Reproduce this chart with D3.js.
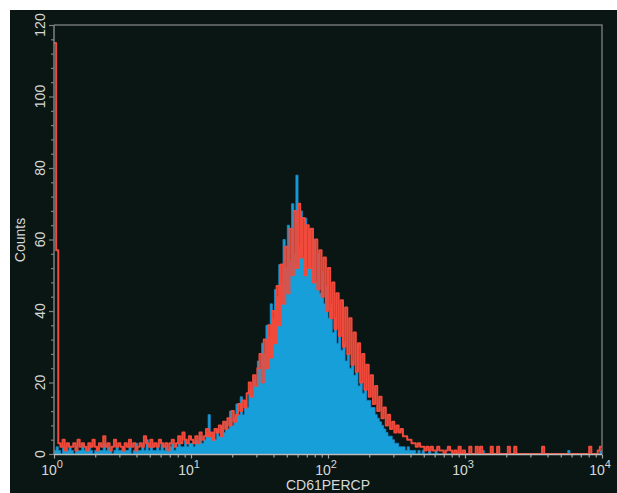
<!DOCTYPE html>
<html>
<head>
<meta charset="utf-8">
<script src="https://cdn.jsdelivr.net/npm/d3@7"></script>
<style>
  body { margin: 0; background: #fff; }
  svg { display: block; font-family: 'Liberation Sans', Arial, sans-serif; }
</style>
</head>
<body>
<script>
// histogram channels: 64 per decade, 10^0 .. 10^4
const channelsPerDecade = 64

const blueCounts = [
  1, 2, 1, 0, 2, 1, 1, 2,
  1, 0, 2, 1, 1, 3, 1, 1,
  2, 1, 0, 1, 2, 1, 1, 3,
  1, 2, 1, 0, 1, 2, 1, 1,
  2, 1, 1, 2, 0, 1, 3, 1,
  1, 2, 1, 4, 1, 2, 1, 1,
  2, 1, 3, 1, 2, 1, 2, 3,
  1, 2, 3, 2, 2, 4, 2, 3,
  3, 2, 4, 3, 5, 3, 4, 6,
  11, 5, 6, 4, 7, 5, 8, 6,
  9, 7, 12, 8, 10, 14, 11, 16,
  11, 15, 13, 18, 16, 21, 19, 26,
  24, 31, 28, 36, 33, 42, 38, 46,
  44, 53, 48, 60, 52, 64, 54, 70,
  56, 78, 58, 68, 55, 66, 52, 63,
  52, 60, 48, 56, 45, 51, 42, 47,
  38, 42, 34, 38, 31, 34, 29, 31,
  26, 28, 24, 26, 22, 23, 19, 20,
  17, 18, 15, 15, 13, 13, 11, 10,
  9, 8, 7, 6, 5, 5, 4, 3,
  3, 2, 2, 2, 1, 2, 1, 1,
  1, 0, 1, 0, 1, 0, 0, 1,
  0, 0, 1, 0, 0, 0, 0, 0,
  0, 0, 0, 0, 0, 0, 0, 0,
  0, 0, 0, 0, 0, 0, 0, 0,
  1, 0, 0, 0, 0, 0, 0, 0,
  0, 0, 0, 0, 0, 0, 0, 0,
  0, 0, 0, 0, 0, 0, 0, 0,
  0, 0, 0, 0, 0, 0, 0, 0,
  0, 0, 0, 0, 0, 0, 0, 0,
  1, 0, 0, 0, 0, 0, 0, 0,
  0, 0, 0, 0, 0, 0, 0, 1
]

const redCounts = [
  115, 57, 3, 2, 4, 1, 3, 2,
  2, 3, 1, 4, 2, 3, 2, 1,
  3, 2, 4, 2, 1, 3, 2, 5,
  2, 3, 1, 2, 4, 2, 3, 2,
  1, 3, 2, 4, 2, 3, 1, 2,
  3, 2, 5, 3, 2, 4, 2, 3,
  2, 4, 3, 2, 3, 1, 3, 4,
  2, 3, 5, 3, 6, 4, 3, 5,
  4, 3, 5, 3, 6, 4, 5, 7,
  5, 6, 4, 7, 6, 8, 5, 9,
  7, 10, 8, 12, 9, 11, 14, 12,
  15, 13, 17, 20, 16, 22, 19, 24,
  28, 20, 32, 24, 36, 27, 40, 31,
  47, 36, 53, 42, 58, 45, 63, 50,
  68, 52, 70, 55, 66, 50, 64, 52,
  63, 48, 60, 46, 57, 44, 55, 40,
  52, 38, 48, 35, 45, 33, 43, 30,
  41, 28, 38, 25, 34, 23, 31, 20,
  28, 18, 25, 16, 22, 14, 19, 12,
  16, 10, 13, 8, 11, 7, 9, 6,
  8, 6, 7, 5, 5, 4, 4, 3,
  3, 2, 3, 2, 2, 1, 2, 1,
  2, 1, 1, 2, 1, 1, 0, 1,
  2, 1, 0, 1, 0, 2, 0, 1,
  0, 0, 2, 0, 0, 2, 0, 2,
  0, 0, 0, 0, 2, 0, 0, 2,
  0, 0, 0, 0, 2, 0, 0, 2,
  0, 0, 0, 0, 0, 0, 0, 0,
  0, 0, 0, 0, 2, 0, 0, 0,
  0, 0, 0, 0, 0, 0, 0, 0,
  0, 0, 0, 0, 0, 0, 0, 0,
  0, 0, 2, 0, 0, 0, 1, 2
]

const xDecades = [0, 1, 2, 3, 4]
const yTicks = [0, 20, 40, 60, 80, 100, 120]
const yMinorStep = 4
const xLabel = 'CD61PERCP'
const yLabel = 'Counts'

const W = 617
const H = 493
const margin = { top: 25, right: 15, bottom: 39, left: 54 }

const svg = d3.select('body')
  .append('svg')
  .attr('width', W)
  .attr('height', H)

// dark panel (white strip on top and left)
svg.append('rect')
  .attr('x', 10)
  .attr('y', 10)
  .attr('width', W - 10)
  .attr('height', H - 10)
  .attr('fill', '#0a1614')

const x = d3.scaleLog()
  .domain([1, 10000])
  .range([margin.left, W - margin.right])

const y = d3.scaleLinear()
  .domain([0, 120])
  .range([H - margin.bottom, margin.top])

svg.append('clipPath')
  .attr('id', 'plot')
  .append('rect')
  .attr('x', x(1))
  .attr('y', y(120))
  .attr('width', x(10000) - x(1))
  .attr('height', y(0) - y(120))

// turn channel counts into step points
const toPoints = counts => {
  const pts = counts.map((c, i) => ({ v: Math.pow(10, i / channelsPerDecade), c: c }))
  pts.push({ v: 10000, c: counts[counts.length - 1] })
  return pts
}

const bluePts = toPoints(blueCounts)
const redPts = toPoints(redCounts)

const area = d3.area()
  .x(d => x(d.v))
  .y0(y(0))
  .y1(d => y(d.c))
  .curve(d3.curveStepAfter)

const line = d3.line()
  .x(d => x(d.v))
  .y(d => y(d.c))
  .curve(d3.curveStepAfter)

const plot = svg.append('g').attr('clip-path', 'url(#plot)')

plot.append('path')
  .datum(bluePts)
  .attr('d', area)
  .attr('fill', '#179fd9')
  .attr('stroke', '#1a8fd0')
  .attr('stroke-width', 0.8)

plot.append('path')
  .datum(redPts)
  .attr('d', line)
  .attr('fill', 'none')
  .attr('stroke', '#ef4a3b')
  .attr('stroke-width', 2)
  .attr('stroke-linejoin', 'round')

// frame: top and right
svg.append('path')
  .attr('d', `M${x(1)},${y(120)}H${x(10000)}V${y(0)}`)
  .attr('fill', 'none')
  .attr('stroke', '#6f7473')
  .attr('stroke-width', 1.5)

// y axis
const yMinor = d3.range(0, 121, yMinorStep).filter(v => v % 20 !== 0)

const yAxisMajor = d3.axisLeft(y).tickValues(yTicks).tickSize(5).tickFormat('')
const yAxisMinor = d3.axisLeft(y).tickValues(yMinor).tickSize(3).tickFormat('')

const yG = svg.append('g')
  .attr('transform', `translate(${x(1)},0)`)
yG.call(yAxisMajor)
yG.append('g').call(yAxisMinor)
yG.selectAll('path, line').attr('stroke', '#7c8281').attr('stroke-width', 1.2)
yG.selectAll('.domain').remove()
yG.append('line')
  .attr('y1', y(0))
  .attr('y2', y(120))
  .attr('stroke', '#7c8281')
  .attr('stroke-width', 1.5)

svg.selectAll('text.ylab')
  .data(yTicks)
  .enter()
  .append('text')
  .attr('class', 'ylab')
  .attr('transform', d => `translate(45,${y(d)}) rotate(-90)`)
  .attr('text-anchor', 'middle')
  .attr('font-size', 14)
  .attr('fill', '#d6d9d8')
  .text(d => d)

// x axis
const xMinor = []
xDecades.slice(0, -1).forEach(dec => {
  d3.range(2, 10).forEach(m => xMinor.push(m * Math.pow(10, dec)))
})

const xAxisMajor = d3.axisBottom(x)
  .tickValues(xDecades.map(d => Math.pow(10, d)))
  .tickSize(4)
  .tickFormat('')
const xAxisMinor = d3.axisBottom(x).tickValues(xMinor).tickSize(3).tickFormat('')

const xG = svg.append('g')
  .attr('transform', `translate(0,${y(0) + 0.5})`)
xG.call(xAxisMajor)
xG.append('g').call(xAxisMinor)
xG.selectAll('line').attr('stroke', '#9ea3a2').attr('stroke-width', 1.2)
xG.selectAll('.domain').remove()
xG.append('line')
  .attr('x1', x(1))
  .attr('x2', x(10000))
  .attr('stroke', '#b9bdbc')
  .attr('stroke-width', 1.3)

const xLab = svg.selectAll('text.xlab')
  .data(xDecades)
  .enter()
  .append('text')
  .attr('class', 'xlab')
  .attr('x', d => x(Math.pow(10, d)) - 2)
  .attr('y', 475)
  .attr('text-anchor', 'middle')
  .attr('font-size', 14)
  .attr('fill', '#d6d9d8')
xLab.append('tspan').text('10')
xLab.append('tspan')
  .attr('dy', -7)
  .attr('font-size', 11)
  .text(d => d)

// axis titles
svg.append('text')
  .attr('x', 328)
  .attr('y', 490)
  .attr('text-anchor', 'middle')
  .attr('font-size', 14)
  .attr('fill', '#d6d9d8')
  .text(xLabel)

svg.append('text')
  .attr('transform', `translate(25,240) rotate(-90)`)
  .attr('text-anchor', 'middle')
  .attr('font-size', 14)
  .attr('fill', '#d6d9d8')
  .text(yLabel)
</script>
</body>
</html>
